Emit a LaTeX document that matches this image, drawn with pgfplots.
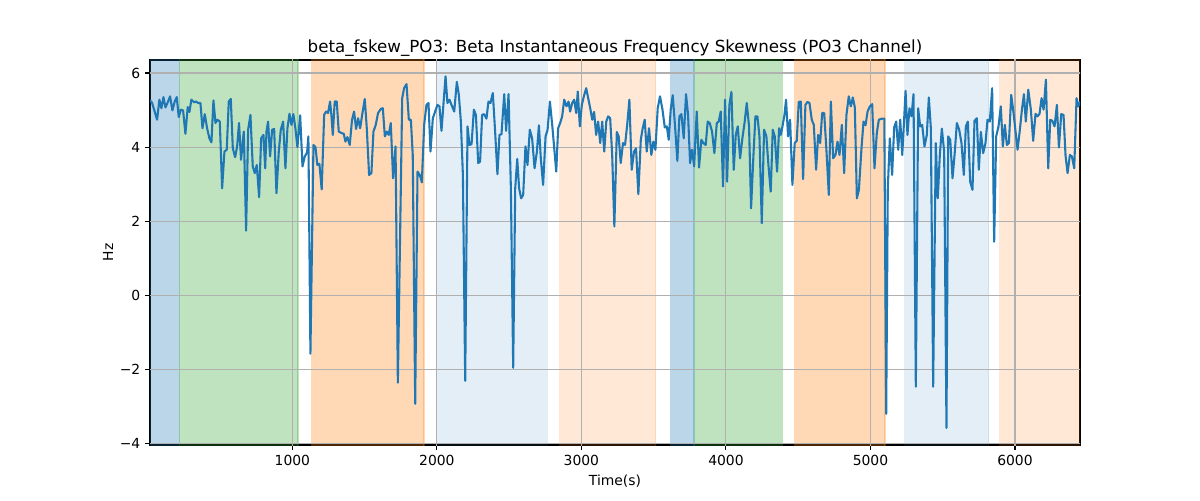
\documentclass[border=0pt]{standalone}
\usepackage{pgfplots}
\pgfplotsset{compat=1.18}
\usepackage{fontspec}
\setmainfont{DejaVu Sans}
\definecolor{tabblue}{RGB}{31,119,180}
\definecolor{tabgreen}{RGB}{44,160,44}
\definecolor{taborange}{RGB}{255,127,14}
\definecolor{gridgray}{RGB}{176,176,176}
\pgfplotsset{
  span/.style 2 args={fill=#1, fill opacity=#2, draw=#1, draw opacity=#2, line width=1pt, forget plot},
  gl/.style={gridgray, line width=0.8pt, forget plot},
}
\begin{document}
\begin{tikzpicture}
\useasboundingbox (0,0) rectangle (864pt,360pt);
\begin{axis}[
  at={(108pt,39.6pt)}, anchor=south west,
  scale only axis, width=669.6pt, height=277.2pt,
  xmin=15, xmax=6450, ymin=-4.03, ymax=6.35,
  xtick={1000,2000,3000,4000,5000,6000},
  xticklabels={1000,2000,3000,4000,5000,6000},
  ytick={-4,-2,0,2,4,6},
  yticklabels={−4,−2,0,2,4,6},
  tick align=outside, major tick length=3.5pt,
  tick style={black, line width=0.8pt},
  axis line style={black, line width=0.8pt},
  tick pos=left,
  every tick label/.style={font=\fontsize{10}{12}\selectfont},
  label style={font=\fontsize{10}{12}\selectfont},
  ylabel style={yshift=-2pt},
  title style={font=\fontsize{12}{14}\selectfont, yshift=-7pt},
  title={beta\_fskew\_PO3: Beta Instantaneous Frequency Skewness (PO3 Channel)},
  xlabel={Time(s)}, ylabel={Hz},
]
\addplot[span={tabblue}{0.3}] coordinates {(15,-5) (218,-5) (218,7) (15,7)};
\addplot[span={tabgreen}{0.3}] coordinates {(218,-5) (1039,-5) (1039,7) (218,7)};
\addplot[span={taborange}{0.3}] coordinates {(1132,-5) (1911,-5) (1911,7) (1132,7)};
\addplot[span={tabblue}{0.12}] coordinates {(1991,-5) (2765,-5) (2765,7) (1991,7)};
\addplot[span={taborange}{0.17}] coordinates {(2846,-5) (3514,-5) (3514,7) (2846,7)};
\addplot[span={tabblue}{0.3}] coordinates {(3614,-5) (3780,-5) (3780,7) (3614,7)};
\addplot[span={tabgreen}{0.3}] coordinates {(3780,-5) (4391,-5) (4391,7) (3780,7)};
\addplot[span={taborange}{0.3}] coordinates {(4472,-5) (5101,-5) (5101,7) (4472,7)};
\addplot[span={tabblue}{0.12}] coordinates {(5233,-5) (5817,-5) (5817,7) (5233,7)};
\addplot[span={taborange}{0.17}] coordinates {(5890,-5) (6470,-5) (6470,7) (5890,7)};
% grid lines (above spans, below data)
\addplot[gl] coordinates {(1000,-5) (1000,7)};
\addplot[gl] coordinates {(2000,-5) (2000,7)};
\addplot[gl] coordinates {(3000,-5) (3000,7)};
\addplot[gl] coordinates {(4000,-5) (4000,7)};
\addplot[gl] coordinates {(5000,-5) (5000,7)};
\addplot[gl] coordinates {(6000,-5) (6000,7)};
\addplot[gl] coordinates {(0,-4) (6500,-4)};
\addplot[gl] coordinates {(0,-2) (6500,-2)};
\addplot[gl] coordinates {(0,0) (6500,0)};
\addplot[gl] coordinates {(0,2) (6500,2)};
\addplot[gl] coordinates {(0,4) (6500,4)};
\addplot[gl] coordinates {(0,6) (6500,6)};
\addplot[tabblue, line width=1.5pt, line join=round] table {
15 5.26
29 5.20
64 4.74
80 5.28
94 5.05
108 5.35
122 5.07
140 5.23
154 5.37
170 4.99
186 5.23
200 5.35
214 4.81
228 5.01
244 4.99
260 4.36
276 5.08
288 4.95
301 5.28
320 5.21
334 5.23
348 5.19
364 5.19
378 4.51
394 4.89
410 4.51
426 4.24
440 4.13
454 5.26
468 4.65
481 4.74
498 4.69
514 2.89
530 3.88
546 3.93
560 5.23
574 5.30
588 3.97
604 3.73
618 4.02
631 4.65
645 3.66
664 4.42
680 1.75
694 4.47
710 4.87
726 3.48
740 3.30
754 3.52
770 2.65
784 4.24
800 4.33
812 3.43
821 4.42
832 4.69
846 3.75
860 4.47
874 4.49
890 2.76
906 3.88
920 4.47
936 4.69
952 3.43
966 4.51
980 4.90
994 4.60
1007 4.89
1021 4.51
1035 4.00
1054 4.86
1070 3.48
1086 3.75
1102 3.86
1111 4.29
1125 -1.57
1146 4.06
1160 4.00
1173 3.52
1187 3.55
1203 2.86
1220 4.87
1233 4.96
1247 4.92
1261 5.23
1270 4.87
1280 4.33
1293 5.23
1307 5.23
1321 4.42
1340 4.38
1356 4.36
1367 4.15
1381 4.27
1397 4.06
1413 4.74
1427 4.96
1441 4.49
1455 4.78
1469 4.51
1483 4.87
1501 5.30
1515 4.51
1531 3.25
1547 3.30
1561 4.42
1577 4.60
1593 4.92
1612 5.03
1626 5.05
1640 4.29
1654 4.42
1667 4.33
1681 4.65
1697 3.16
1714 4.02
1730 -2.35
1760 5.32
1773 5.59
1790 5.70
1806 4.74
1820 4.74
1833 3.79
1850 -2.92
1866 3.34
1882 3.25
1896 3.05
1912 4.60
1928 5.14
1942 5.19
1956 3.88
1972 4.78
1988 4.96
2004 5.14
2018 5.10
2032 4.44
2046 5.19
2060 5.91
2073 5.19
2087 5.28
2101 5.14
2120 4.96
2138 5.76
2152 5.41
2166 4.69
2180 3.25
2196 -2.30
2212 4.56
2226 4.06
2240 4.08
2256 5.01
2270 4.87
2286 3.57
2299 3.61
2313 4.87
2327 4.89
2343 4.77
2357 5.23
2371 5.19
2387 5.46
2403 4.42
2419 3.27
2433 4.33
2447 4.35
2466 5.43
2479 4.44
2496 5.43
2512 2.89
2528 -1.95
2542 2.89
2556 3.68
2569 2.89
2583 2.62
2597 2.71
2613 4.02
2627 3.52
2643 4.47
2659 4.24
2676 3.43
2692 3.88
2706 4.59
2719 3.70
2735 2.98
2752 4.29
2766 4.47
2782 5.23
2798 4.60
2812 3.97
2826 3.34
2839 4.51
2853 4.65
2867 4.83
2881 5.28
2897 5.10
2911 5.23
2922 4.96
2936 5.19
2950 5.28
2964 4.92
2975 5.50
2989 4.56
3003 5.14
3017 5.37
3033 5.59
3047 5.32
3061 5.05
3075 4.74
3088 4.95
3102 4.33
3116 4.69
3130 4.11
3144 4.69
3158 3.88
3172 4.69
3185 4.83
3199 4.78
3213 3.79
3228 1.86
3245 4.41
3258 4.29
3272 3.57
3288 4.11
3302 4.06
3318 4.65
3332 5.28
3348 3.39
3364 3.88
3378 3.97
3394 2.73
3411 4.20
3424 4.51
3438 4.74
3452 3.88
3468 4.51
3484 3.79
3498 4.15
3512 3.93
3528 5.05
3544 5.37
3561 5.01
3577 4.53
3591 4.56
3604 4.20
3618 5.01
3632 5.40
3648 4.56
3664 3.63
3678 4.83
3692 4.89
3708 4.24
3724 5.43
3738 4.87
3752 3.57
3766 3.93
3780 3.48
3798 4.96
3814 3.45
3830 4.20
3844 4.11
3860 4.06
3874 4.69
3888 4.65
3904 4.42
3920 3.84
3937 4.65
3950 4.69
3964 4.96
3980 2.94
3994 5.28
4008 3.07
4024 5.14
4038 5.49
4054 3.39
4068 4.33
4082 4.56
4098 3.70
4114 4.24
4130 4.69
4144 5.19
4160 4.56
4174 2.35
4190 3.75
4204 4.83
4218 4.83
4232 4.29
4248 1.95
4264 4.47
4280 4.29
4294 3.52
4310 2.80
4324 4.47
4338 4.29
4354 3.34
4368 4.51
4380 4.33
4393 4.60
4405 4.87
4416 5.28
4430 4.29
4444 4.74
4460 2.98
4476 4.11
4490 4.17
4504 5.22
4518 5.23
4534 3.14
4550 5.14
4564 5.22
4578 5.19
4594 4.74
4608 4.60
4624 3.39
4638 4.33
4652 4.11
4666 4.92
4680 4.92
4696 3.88
4712 2.71
4726 5.23
4742 3.70
4758 3.79
4772 4.15
4786 3.79
4802 4.60
4818 3.30
4834 4.87
4850 5.37
4864 5.10
4878 5.34
4892 5.07
4906 2.62
4920 2.85
4938 3.97
4952 4.69
4966 4.59
4980 4.96
4996 5.10
5012 5.16
5028 3.43
5044 4.38
5058 4.74
5072 4.76
5086 4.77
5096 4.77
5109 -3.19
5120 2.89
5134 4.24
5150 3.25
5164 4.53
5178 4.69
5192 3.93
5206 4.74
5220 3.79
5233 4.74
5243 5.52
5256 4.33
5270 5.05
5284 4.83
5298 5.43
5314 -2.46
5330 5.05
5344 4.56
5358 4.60
5374 4.02
5390 4.33
5404 5.34
5418 4.51
5434 -2.46
5452 4.11
5466 2.62
5480 3.79
5494 4.50
5510 3.88
5526 -3.57
5538 4.29
5552 4.20
5568 3.16
5582 3.79
5598 4.65
5614 4.47
5630 4.11
5646 3.25
5660 4.56
5674 4.69
5690 3.07
5706 2.85
5720 4.71
5736 4.78
5750 3.39
5764 4.41
5780 3.84
5796 4.11
5810 4.74
5826 4.69
5842 5.59
5856 1.45
5870 4.29
5886 4.56
5902 5.10
5916 4.02
5930 4.60
5944 4.06
5958 4.11
5974 5.41
5990 4.92
6004 4.42
6018 3.93
6034 4.47
6048 5.01
6062 5.43
6075 4.69
6092 5.55
6110 5.01
6126 4.17
6142 4.90
6156 4.83
6170 4.90
6184 5.32
6198 5.01
6214 5.82
6230 3.43
6244 4.74
6258 4.71
6274 4.56
6290 5.14
6304 3.99
6320 4.89
6336 4.87
6350 3.77
6364 3.30
6380 3.79
6394 3.75
6410 3.43
6426 5.32
6438 5.10
6452 5.23
};
\end{axis}
\end{tikzpicture}
\end{document}
